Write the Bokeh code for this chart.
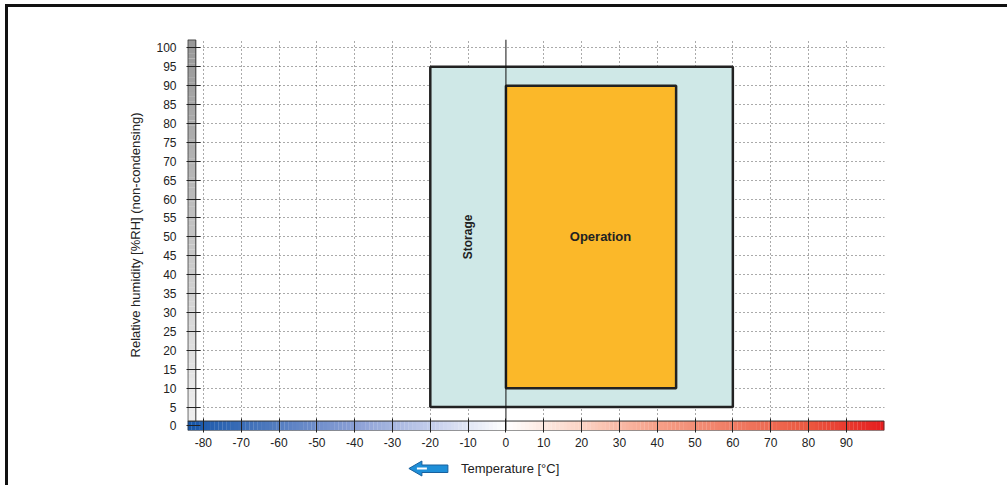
import numpy as np
from bokeh.plotting import figure
from bokeh.layouts import column
from bokeh.models import FixedTicker, Span, Range1d
from bokeh.core.properties import value
from bokeh.embed import file_html
from bokeh.resources import INLINE

# ---- data ----
zones = ["Storage", "Operation"]
temp_min = [-20, 0]
temp_max = [60, 45]
rh_min = [5, 10]
rh_max = [95, 90]
zone_fill = ["#cfe8e7", "#fbb829"]
label_temp = [-10, 25]
label_rh = [50, 50]
label_angle = [np.pi / 2, 0]
label_size = ["12px", "13px"]

temp_ticks = list(range(-80, 100, 10))
rh_ticks = list(range(0, 105, 5))

FONT = "Liberation Sans"
X0, X1 = -84.2, 100.1
Y0, Y1 = -1.2, 102.2

p = figure(x_range=(X0, X1), y_range=(Y0, Y1),
           frame_width=697, frame_height=391,
           min_border_left=179, min_border_right=123,
           min_border_top=32, min_border_bottom=25,
           output_backend="svg", toolbar_location=None)
p.outline_line_color = None
p.background_fill_color = "white"
p.border_fill_color = "white"

# grid
p.xgrid.ticker = FixedTicker(ticks=[t for t in temp_ticks if t != 0])
p.ygrid.ticker = FixedTicker(ticks=rh_ticks[1:])
for g in (p.xgrid, p.ygrid):
    g.grid_line_color = "#555555"
    g.grid_line_dash = "1 3"
    g.grid_line_width = 1

# zones
p.quad(left=temp_min, right=temp_max, bottom=rh_min, top=rh_max,
       fill_color=zone_fill, line_color="#222222", line_width=2.5)

p.add_layout(Span(location=0, dimension="height", line_color="#111111", line_width=1))

p.text(x=label_temp, y=label_rh, text=zones, angle=label_angle,
       text_font=value(FONT), text_font_style="bold", text_font_size=label_size,
       text_align="center", text_baseline="middle", text_color="#222222")


def hex2rgb(h):
    return np.array([int(h[i:i + 2], 16) for i in (1, 3, 5)], dtype=float)


def interp(stops, t):
    for (p0, c0), (p1, c1) in zip(stops[:-1], stops[1:]):
        if p0 <= t <= p1:
            f = (t - p0) / (p1 - p0) if p1 > p0 else 0
            c = hex2rgb(c0) * (1 - f) + hex2rgb(c1) * f
            return "#%02x%02x%02x" % tuple(int(round(v)) for v in c)
    return stops[-1][1]


# temperature colour bar
cb_stops = [(X0, "#1555a8"), (-40, "#8a9fd5"), (-20, "#c3cdeb"), (0, "#ffffff"),
            (20, "#fbd3c4"), (40, "#f6a088"), (60, "#f07c64"), (80, "#eb5840"), (X1, "#e61c1e")]
n = 180
edges = np.linspace(X0, X1, n + 1)
mids = (edges[:-1] + edges[1:]) / 2
p.quad(left=edges[:-1], right=edges[1:] + 0.05, bottom=-1.2, top=1.3,
       fill_color=[interp(cb_stops, m) for m in mids], line_color=None)
p.quad(left=[X0 + 0.1], right=[X1 - 0.1], bottom=[-1.2], top=[1.3],
       fill_color=None, line_color="#333333", line_width=1)

# humidity grey bar
gb_stops = [(1.3, "#efefef"), (50, "#c4c4c4"), (Y1, "#979797")]
m = 80
yedges = np.linspace(1.3, Y1, m + 1)
ymids = (yedges[:-1] + yedges[1:]) / 2
p.quad(left=X0, right=-82.0, bottom=yedges[:-1], top=yedges[1:] + 0.05,
       fill_color=[interp(gb_stops, v) for v in ymids], line_color=None)
p.quad(left=[X0 + 0.1], right=[-82.0], bottom=[1.3], top=[Y1 - 0.1],
       fill_color=None, line_color="#333333", line_width=1)

# axes
p.xaxis.ticker = FixedTicker(ticks=temp_ticks)
p.xaxis.major_label_overrides = {t: str(t) for t in temp_ticks}
p.yaxis.ticker = FixedTicker(ticks=rh_ticks)
for ax in (p.xaxis, p.yaxis):
    ax.axis_line_color = None
    ax.minor_tick_line_color = None
    ax.major_tick_line_color = "#222222"
    ax.major_label_text_font = FONT
    ax.major_label_text_font_size = "12px"
    ax.major_label_text_color = "#222222"
p.xaxis.major_tick_in = 12
p.xaxis.major_tick_out = 2
p.xaxis.major_label_standoff = 5
p.yaxis.major_tick_in = 13
p.yaxis.major_tick_out = 1
p.yaxis.major_label_standoff = 10
p.yaxis.axis_label = "Relative humidity [%RH] (non-condensing)"
p.yaxis.axis_label_text_font = FONT
p.yaxis.axis_label_text_font_style = "normal"
p.yaxis.axis_label_text_font_size = "13px"
p.yaxis.axis_label_text_color = "#222222"
p.yaxis.axis_label_standoff = 10

# ---- strip below: arrow + x title, same temperature scale ----
p2 = figure(x_range=p.x_range, y_range=Range1d(485, 455),
            frame_width=697, frame_height=30,
            min_border_left=179, min_border_right=123,
            min_border_top=0, min_border_bottom=0,
            x_axis_type=None, y_axis_type=None,
            output_backend="svg", toolbar_location=None)
p2.outline_line_color = None
p2.grid.visible = False


def dx(px):
    return (px - 505.0) / 3.78


ax_px = [408, 421, 421, 447, 447, 421, 421]
ay_px = [468, 460.5, 464.5, 464.5, 472, 472, 475.5]
p2.patch(x=[dx(v) for v in ax_px], y=ay_px, fill_color="#1e8fd8",
         line_color="#17609e", line_width=1)
p2.patch(x=[dx(416), dx(426), dx(426), dx(416)], y=[467, 467, 469, 469],
         fill_color="white", line_color=None)
p2.text(x=[dx(460)], y=[468], text=["Temperature [°C]"],
        text_font=value(FONT), text_font_size="13px", text_color="#222222",
        text_align="left", text_baseline="middle")

layout = column(p, p2, spacing=0,
                styles={"border-left": "3px solid #111", "border-top": "3px solid #111",
                        "margin-left": "5px", "margin-top": "4px"})

open("out.html", "w").write(file_html(layout, INLINE))
